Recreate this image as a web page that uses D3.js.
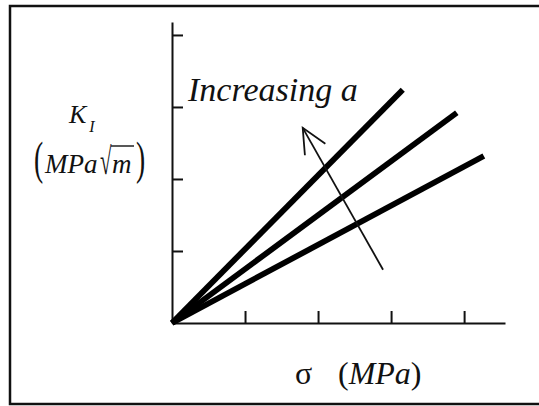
<!DOCTYPE html>
<html>
<head>
<meta charset="utf-8">
<script src="https://cdn.jsdelivr.net/npm/d3@7"></script>
<style>
  html, body { margin: 0; padding: 0; background: #fff; }
  svg { display: block; }
</style>
</head>
<body>
<svg id="chart" width="539" height="406"></svg>
<script>
// --- data (schematic) ---
const xTicks = [1, 2, 3, 4];
const yTicks = [1, 2, 3, 4];
const lineNames = ["large a", "medium a", "small a"];
const lineEndX = [3.16, 3.90, 4.27];
const lineEndY = [3.24, 2.92, 2.32];
const arrowX = [2.89, 1.79];   // tail -> tip
const arrowY = [0.74, 2.71];
const arrowHeadX = [1.82, 1.79, 2.10];
const arrowHeadY = [2.33, 2.71, 2.49];

const SERIF = "Liberation Serif";
const svg = d3.select("#chart");

const txt = (sel) => sel.attr("font-family", SERIF).attr("fill", "#111");

// frame
svg.append("rect")
    .attr("x", 10).attr("y", 6)
    .attr("width", 545).attr("height", 398)
    .attr("fill", "none").attr("stroke", "#111").attr("stroke-width", 2.5);

const x = d3.scaleLinear().domain([0, 4.56]).range([172, 505]);
const y = d3.scaleLinear().domain([0, 4.18]).range([323, 22]);

// axes
svg.append("g")
    .attr("transform", `translate(0,${y(0)})`)
    .call(d3.axisBottom(x).tickValues(xTicks).tickSizeInner(-12).tickSizeOuter(0).tickFormat(""))
    .call(g => g.selectAll("path, line").attr("stroke", "#111").attr("stroke-width", 2));

svg.append("g")
    .attr("transform", `translate(${x(0)},0)`)
    .call(d3.axisLeft(y).tickValues(yTicks).tickSizeInner(-11).tickSizeOuter(0).tickFormat(""))
    .call(g => g.selectAll("path, line").attr("stroke", "#111").attr("stroke-width", 2));

// lines from origin
const line = d3.line().x(d => x(d[0])).y(d => y(d[1]));
svg.append("g").selectAll("path")
    .data(lineNames.map((n, i) => [[0, 0], [lineEndX[i], lineEndY[i]]]))
    .join("path")
    .attr("d", line)
    .attr("fill", "none")
    .attr("stroke", "#000")
    .attr("stroke-width", 5.8);

// "increasing a" arrow
svg.append("path")
    .datum(arrowX.map((v, i) => [v, arrowY[i]]))
    .attr("d", line)
    .attr("fill", "none").attr("stroke", "#111").attr("stroke-width", 1.8);
svg.append("path")
    .datum(arrowHeadX.map((v, i) => [v, arrowHeadY[i]]))
    .attr("d", line)
    .attr("fill", "none").attr("stroke", "#111").attr("stroke-width", 1.8);

// labels
svg.append("text").call(txt)
    .attr("x", 188).attr("y", 101)
    .attr("font-size", 34).attr("font-style", "italic")
    .text("Increasing a");

// K_I
const kLab = svg.append("text").call(txt)
    .attr("x", 69).attr("y", 123)
    .attr("font-size", 26).attr("font-style", "italic");
kLab.append("tspan").text("K");
kLab.append("tspan").attr("dx", 3).attr("dy", 9).attr("font-size", 16).text("I");

// (MPa sqrt m)
svg.append("text").call(txt)
    .attr("transform", "translate(34,174) scale(0.6,1)")
    .attr("font-size", 46)
    .text("(");
svg.append("text").call(txt)
    .attr("x", 45).attr("y", 173)
    .attr("font-size", 27).attr("font-style", "italic")
    .text("MPa");
svg.append("text").call(txt)
    .attr("transform", "translate(100,174) scale(0.55,1)")
    .attr("font-size", 38)
    .text("√");
svg.append("line")
    .attr("x1", 111).attr("x2", 134).attr("y1", 146).attr("y2", 146)
    .attr("stroke", "#111").attr("stroke-width", 1.4);
svg.append("text").call(txt)
    .attr("x", 112).attr("y", 173)
    .attr("font-size", 27).attr("font-style", "italic")
    .text("m");
svg.append("text").call(txt)
    .attr("transform", "translate(136,174) scale(0.6,1)")
    .attr("font-size", 46)
    .text(")");

// sigma (MPa)
const xl = svg.append("text").call(txt)
    .attr("x", 295).attr("y", 384)
    .attr("font-size", 32);
xl.append("tspan").text("σ");
xl.append("tspan").attr("x", 338).text("(");
xl.append("tspan").attr("font-style", "italic").text("MPa");
xl.append("tspan").text(")");
</script>
</body>
</html>
